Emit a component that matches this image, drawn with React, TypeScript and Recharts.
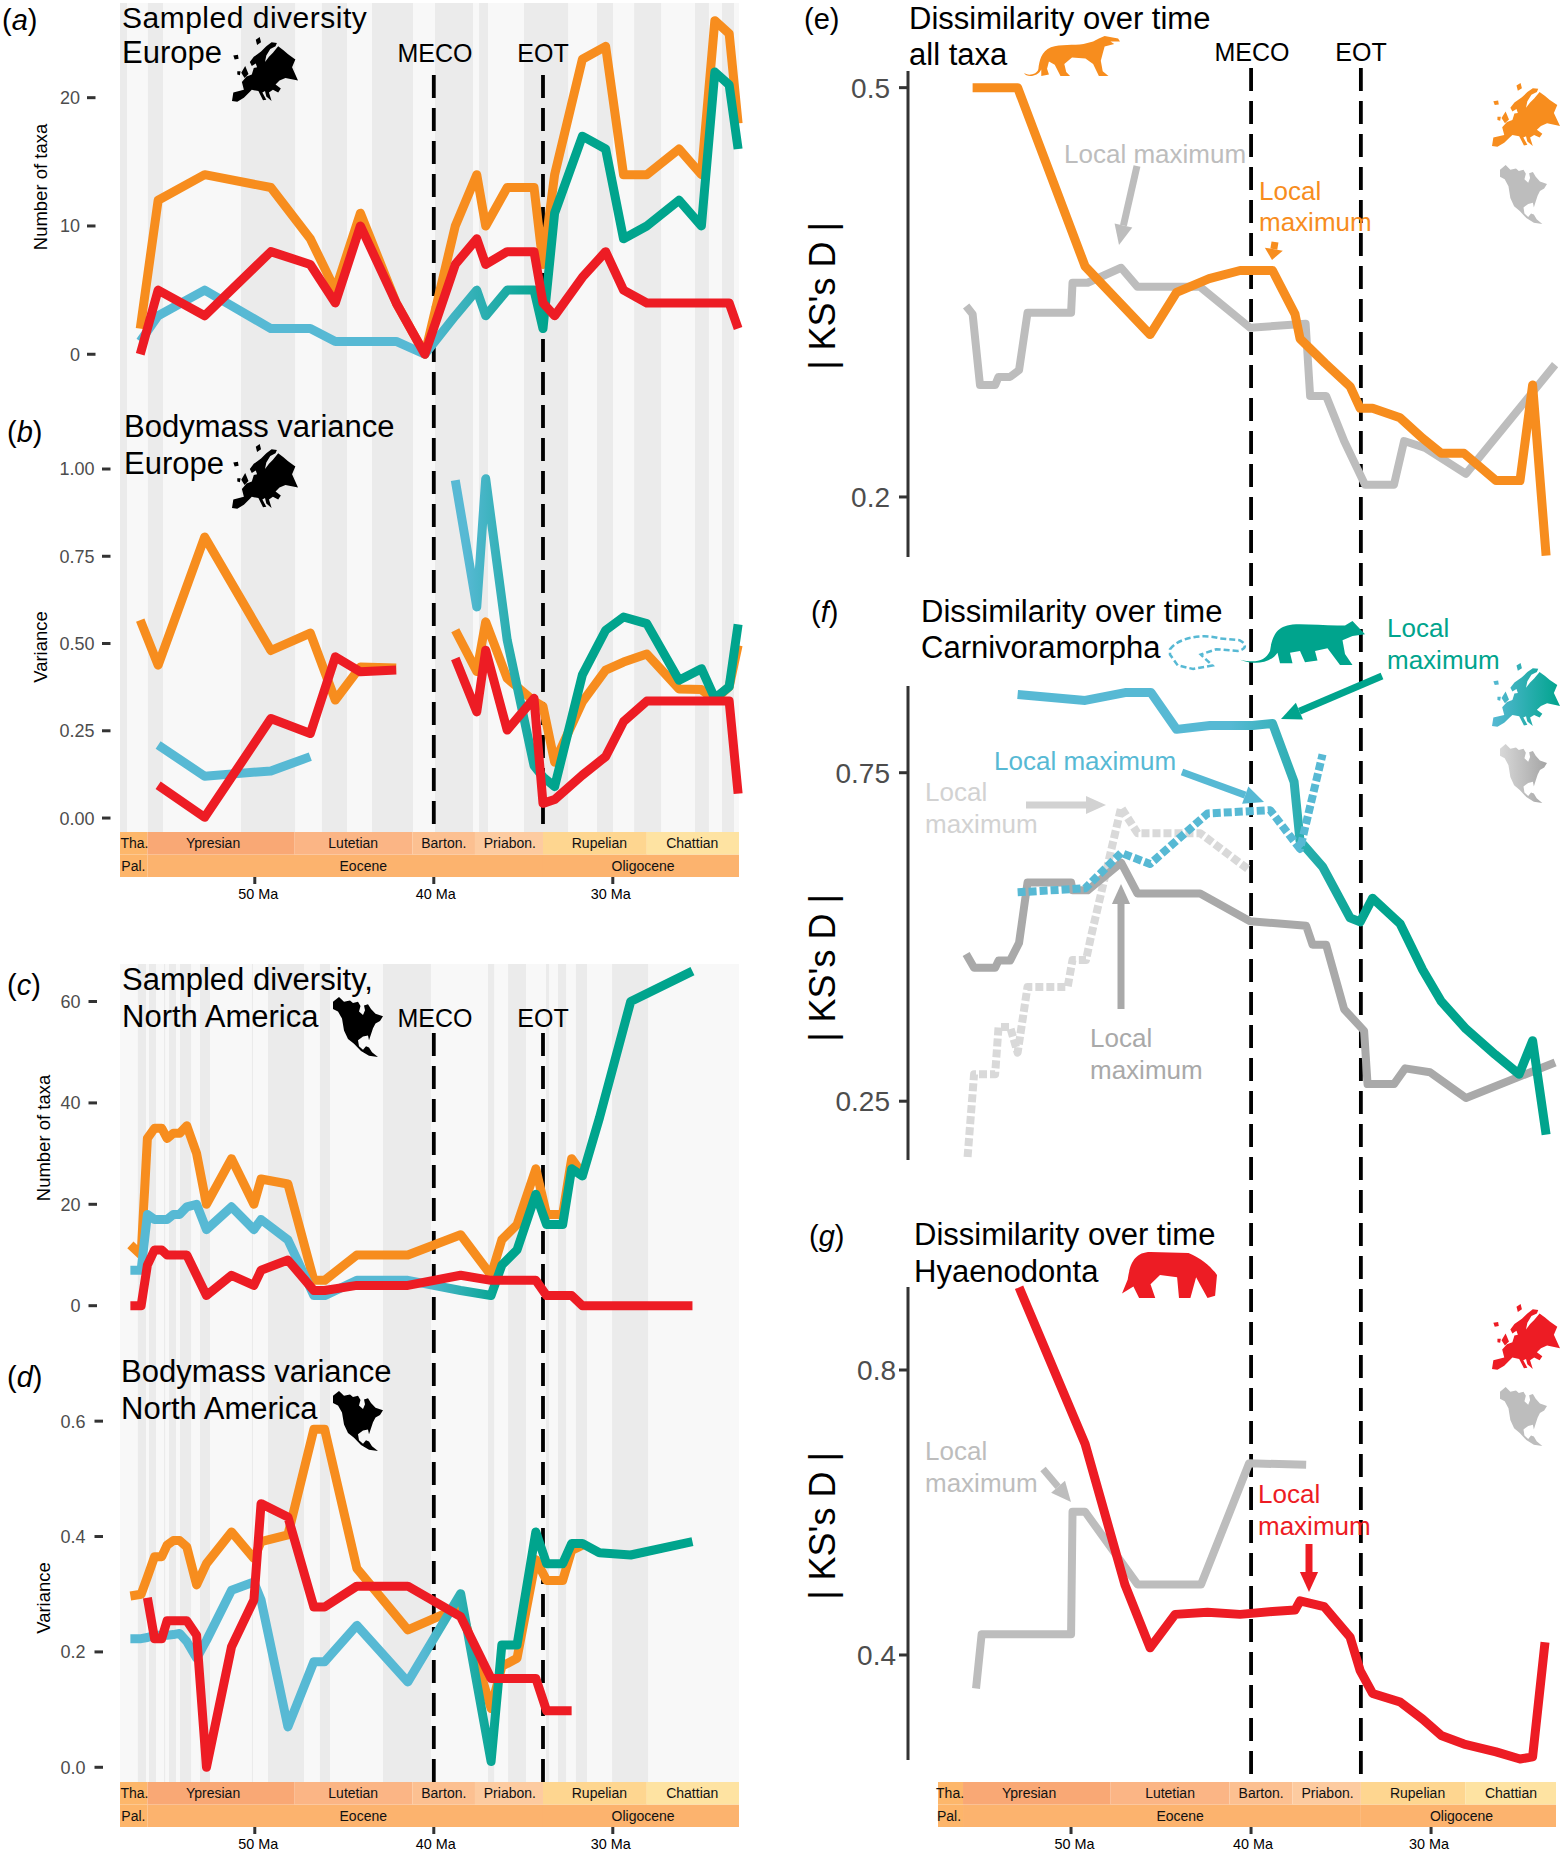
import React from 'react';
import { LineChart, Line, XAxis, YAxis, ReferenceArea, ReferenceLine, ReferenceDot } from 'recharts';

const FONT = '"Liberation Sans", Arial, sans-serif';
const ORANGE = '#F78D1E', RED = '#ED1C24', BLUE = '#57B9D4', TEAL = '#00A48D';
const MECO_AGE = 40, EOT_AGE = 33.9;

// ---------- Time bins (Ma) ----------
const ageEurope = [56.4, 55.4, 52.8, 49.1, 46.9, 45.5, 44.1, 42.1, 40.5, 38.8, 37.6, 37.1, 35.9, 34.4, 33.9, 33.25, 31.7, 30.4, 29.4, 28.1, 26.3, 25.05, 24.3, 23.5, 23.0];
const ageNorthAm = [56.95, 56.35, 56.0, 55.6, 55.2, 54.9, 54.55, 54.2, 53.8, 53.25, 52.7, 51.3, 50.05, 49.65, 48.15, 46.7, 46.1, 44.3, 41.45, 38.5, 36.8, 36.2, 35.35, 34.3, 33.7, 32.8, 32.3, 31.7, 30.75, 29, 25.55];

// (a) diversity Europe
const aOrange = [2, 12, 14, 13, 9, 5, 11, 4, 0, 10, 14, 10, 13, 13, 7, 14, 23, 24, 14, 14, 16, 14, 26, 25, 18];
const aCarni = [1, 3, 5, 2, 2, 1, 1, 1, 0, 3, 5, 3, 5, 5, 2, 11, 17, 16, 9, 10, 12, 10, 22, 21, 16];
const aRed = [0, 5, 3, 8, 7, 4, 10, 4, 0, 7, 9, 7, 8, 8, 4, 3, 6, 8, 5, 4, 4, 4, 4, 4, 2];
// (b) variance Europe
const bOrange = [.567, .438, .805, .48, .53, .338, .433, .43, null, .538, .42, .562, .40, .335, .32, .16, .333, .424, .447, .47, .37, .368, .338, .376, .495];
const bCarni = [null, .209, .12, .135, .176, null, null, null, null, .968, .605, .972, .51, .15, .118, .09, .41, .538, .576, .557, .395, .428, .343, .376, .555];
const bRed = [null, .094, .002, .285, .242, .462, .419, .424, null, .457, .304, .481, .252, .343, .042, .053, .123, .176, .276, .335, .335, .335, .335, .335, .07];
// (c) diversity North America
const cOrange = [12, 10, 33, 35, 35, 33, 34, 34, 35.5, 30, 20, 29, 20, 25, 24, 5, 5, 10, 10, 14, 6, 13, 16, 27, 18, 18, 29, 26, null, null, null];
const cCarni = [7, 7, 18, 17, 17, 17, 18, 18, 19.5, 20, 15, 19.5, 15, 17, 13, 2, 2, 5, 5, 3, 2, 8, 11, 22, 16, 16, 27, 25.6, 37, 60, 66];
const cRed = [0, 0, 8, 11, 11, 10, 10, 10, 10, 6, 2, 6, 4, 7, 9, 3, 3, 4, 4, 6, 5, 5, 5, 5, 2, 2, 2, 0, 0, 0, 0];
// (d) variance North America
const dOrange = [.297, .3, .33, .365, .365, .385, .393, .393, .382, .316, .353, .408, .362, .391, .403, .586, .586, .345, .238, .278, .102, .175, .189, .36, .324, .324, .376, .385, null, null, null];
const dCarni = [.223, .223, .225, .229, .229, .229, .23, .232, .218, .189, .22, .307, .321, .29, .07, .183, .183, .246, .148, .301, .01, .212, .212, .408, .353, .353, .388, .388, .372, .368, .391];
const dRed = [null, null, .294, .223, .223, .254, .254, .254, .254, .229, 0, .209, .29, .457, .434, .278, .278, .314, .314, .261, .154, .154, .154, .154, .098, .098, .098, null, null, null, null];
// (e) all taxa
const eOrangeAge = [55.47, 52.97, 49.22, 45.61, 44.14, 42.33, 40.61, 38.81, 37.56, 37.28, 35.89, 34.5, 33.94, 33.25, 31.72, 30.47, 29.44, 28.17, 26.39, 25.06, 24.36, 23.61];
const eOrange = [.5, .5, .369, .319, .35, .36, .366, .366, .334, .316, .298, .281, .265, .265, .258, .243, .232, .232, .212, .212, .282, .157];
const eGreyAge = [55.83, 55.47, 55.06, 54.22, 54.03, 53.39, 52.89, 52.42, 50, 49.92, 49.08, 47.22, 46.31, 42.83, 40.06, 36.97, 36.72, 35.83, 34.83, 33.67, 32.06, 31.5, 30.33, 28.06, 23.11];
const eGrey = [.34, .334, .282, .282, .288, .288, .293, .335, .335, .357, .357, .368, .354, .354, .324, .327, .274, .274, .241, .209, .209, .241, .236, .217, .297];
// (f) Carnivoramorpha
const fCarniAge = [52.97, 49.22, 47, 45.56, 44.14, 42.28, 39.92, 38.81, 37.61, 37.28, 36.03, 34.5, 33.94, 33.25, 31.72, 30.47, 29.44, 28.06, 26.44, 25.11, 24.36, 23.61];
const fCarni = [.869, .86, .872, .872, .816, .822, .822, .825, .736, .646, .607, .529, .523, .559, .52, .45, .402, .36, .321, .291, .342, .199];
const fGreyAge = [55.83, 55.39, 54.22, 54.03, 53.39, 52.89, 52.42, 50, 49.92, 49.08, 47.22, 46.31, 42.83, 40.06, 36.94, 36.58, 35.83, 34.83, 33.72, 33.53, 32.06, 31.44, 30.06, 28.06, 23.11];
const fGrey = [.474, .453, .453, .464, .464, .491, .583, .583, .571, .571, .613, .566, .566, .524, .517, .488, .488, .39, .357, .276, .276, .3, .294, .255, .309];
const fDotGreyAge = [55.75, 55.39, 54.22, 54.03, 53.39, 52.97, 52.42, 50.19, 49.92, 49.17, 48.89, 47.22, 46.31, 42.83, 40.06];
const fDotGrey = [.165, .291, .291, .363, .363, .324, .424, .424, .465, .465, .501, .697, .658, .658, .601];
const fDotBlueAge = [52.97, 49.22, 47.22, 45.61, 42.42, 38.94, 37.28, 36.03];
const fDotBlue = [.568, .574, .628, .611, .688, .693, .634, .778];
// (g) Hyaenodonta
const gRedAge = [52.89, 49.22, 47, 45.61, 44.22, 42.42, 40.61, 38.81, 37.56, 37.28, 35.94, 34.5, 33.94, 33.25, 31.72, 30.47, 29.44, 28.17, 26.39, 25.06, 24.36, 23.67];
const gRed = [.916, .696, .498, .41, .457, .46, .457, .461, .463, .476, .468, .425, .378, .346, .334, .31, .287, .275, .264, .254, .257, .418];
const gGreyAge = [55.28, 54.97, 50, 49.92, 49.22, 46.31, 42.78, 40.11, 36.94];
const gGrey = [.353, .429, .429, .601, .601, .499, .499, .669, .667];

// ---------- Background stripes (Ma) ----------
const stripesEurope = [[57.53, 57.14], [55.97, 55.13], [50.77, 47.75], [46.25, 44.85], [43.45, 41.16], [39.93, 37.81], [37.47, 36.97], [34.96, 32.5], [30.88, 29.99], [28.81, 27.3], [25.41, 24.63], [23.9, 23.23]];
const stripesNorthAm = [[56.53, 56.08], [55.91, 55.52], [55.07, 55.01], [54.79, 54.4], [54.18, 53.56], [53.06, 52.5], [50.16, 50.1], [49.26, 47.25], [46.36, 45.8], [42.84, 40.16], [36.97, 36.63], [35.85, 34.85], [33.73, 33.56], [33.06, 32.61], [32.06, 31.44], [30.04, 28.03]];

// ---------- Geological timescale ----------
const stageNames = ['Tha.', 'Ypresian', 'Lutetian', 'Barton.', 'Priabon.', 'Rupelian', 'Chattian'];
const stageEnds = [56, 47.8, 41.2, 37.7, 33.9, 28.1, 23];
const stageFills = ['#FDB76B', '#F9A875', '#FBB585', '#FCC091', '#FDCBA0', '#FED690', '#FEE3A2'];
const stageLabelAge = [56.72, 52.33, 44.5, 39.44, 35.75, 30.75, 25.56];
const epochNames = ['Pal.', 'Eocene', 'Oligocene'];
const epochEnds = [56, 33.9, 23];
const epochFills = ['#FDB56A', '#FCB36E', '#FCB36E'];
const epochLabelAge = [56.78, 43.94, 28.31];
const timeTicks = [50, 40, 30];
const timeTickLabelShift: Record<number, number> = { 50: 3.5, 40: 2, 30: -2 };

const pts = (ages: number[], vals: (number | null)[]) => ages.map((x, i) => ({ x, y: vals[i] }));

const colL = { left: 120, right: 739, old: 57.53, young: 22.95 };
const colR = { left: 908, right: 1556, old: 59.06, young: 23.06 };

function Panel({ col, chartLeft, top, bottom, domain, ticks, fmt, tickGeo, fontSize, axis, series }: any) {
  const M = 8;
  const plotH = bottom - top;
  const tick = (p: any) => (
    <g>
      <line x1={tickGeo[0] - chartLeft} x2={tickGeo[1] - chartLeft} y1={p.y} y2={p.y} stroke="#333" strokeWidth={3} />
      <text x={tickGeo[2] - chartLeft} y={p.y} dy="0.36em" textAnchor="end" fontSize={fontSize} fontFamily={FONT} fill="#4D4D4D">{fmt(p.payload.value)}</text>
    </g>
  );
  return (
    <div style={{ position: 'absolute', left: chartLeft, top: top - M }}>
      <LineChart width={col.right - chartLeft + M} height={plotH + 2 * M} margin={{ top: M, right: M, bottom: M, left: 0 }}>
        <XAxis type="number" dataKey="x" domain={[col.young, col.old]} reversed hide />
        <YAxis type="number" dataKey="y" width={col.left - chartLeft} domain={domain} ticks={ticks} interval={0} tick={tick} tickLine={false}
          axisLine={axis ? { stroke: '#333', strokeWidth: 3 } : false} />
        {series.map((s: any, i: number) => (
          <Line key={i} data={s.data} dataKey="y" type="linear" stroke={s.stroke} strokeWidth={s.w || 9} strokeDasharray={s.dash}
            strokeLinejoin="round" strokeLinecap="butt" dot={false} activeDot={false} isAnimationActive={false} connectNulls={false} />
        ))}
      </LineChart>
    </div>
  );
}

function Guides({ col, top, bottom, dashTop, stripes }: any) {
  const seg = (x: number) => [{ x, y: dashTop }, { x, y: bottom }];
  return (
    <div style={{ position: 'absolute', left: col.left, top }}>
      <LineChart width={col.right - col.left} height={bottom - top} margin={{ top: 0, right: 0, bottom: 0, left: 0 }}
        data={[{ x: col.old, y: top }, { x: col.young, y: bottom }]}>
        <XAxis type="number" dataKey="x" domain={[col.young, col.old]} reversed hide />
        <YAxis type="number" dataKey="y" domain={[top, bottom]} reversed hide />
        {stripes && <ReferenceArea x1={col.old} x2={col.young} fill="#F8F8F8" fillOpacity={1} stroke="none" />}
        {stripes && stripes.map((s: number[], i: number) => (
          <ReferenceArea key={i} x1={s[0]} x2={s[1]} fill="#EBEBEB" fillOpacity={1} stroke="none" />
        ))}
        <ReferenceLine segment={seg(MECO_AGE)} stroke="#000" strokeWidth={3.8} strokeDasharray="23 10" />
        <ReferenceLine segment={seg(EOT_AGE)} stroke="#000" strokeWidth={3.8} strokeDasharray="23 10" />
      </LineChart>
    </div>
  );
}

function Timescale({ left, right, old, young, top }: any) {
  const rows = [0, 1];
  const pad = 16;
  const tick = (p: any) => (
    <g>
      <line x1={p.x} x2={p.x} y1={45} y2={52} stroke="#333" strokeWidth={3} />
      <text x={p.x + timeTickLabelShift[p.payload.value]} y={67} textAnchor="middle" fontSize={14.4} fontFamily={FONT} fill="#000">{p.payload.value} Ma</text>
    </g>
  );
  return (
    <div style={{ position: 'absolute', left: left - pad, top }}>
      <LineChart width={right - left + 2 * pad} height={71} margin={{ top: 0, right: pad, bottom: 0, left: pad }}
        data={[{ x: old, y: 0 }, { x: young, y: 2 }]}>
        <XAxis type="number" dataKey="x" domain={[young, old]} reversed ticks={timeTicks} interval={0} height={26} tickLine={false}
          axisLine={false} tick={tick} />
        <YAxis type="number" dataKey="y" domain={[0, 2]} hide />
        {rows.map((r) => {
          const ends = r === 1 ? stageEnds : epochEnds;
          const fills = r === 1 ? stageFills : epochFills;
          return ends.map((e, i) => (
            <ReferenceArea key={`${r}-${i}`} x1={i === 0 ? old : ends[i - 1]} x2={i === ends.length - 1 ? young : e} y1={r} y2={r + 1}
              fill={fills[i]} fillOpacity={1} stroke="none" />
          ));
        })}
        {stageNames.map((n, i) => (
          <ReferenceDot key={n} x={stageLabelAge[i]} y={1.5} r={0} fill="none" stroke="none"
            label={{ value: n, position: 'center', fontSize: 14, fontFamily: FONT, fill: '#111' }} />
        ))}
        {epochNames.map((n, i) => (
          <ReferenceDot key={n} x={epochLabelAge[i]} y={0.5} r={0} fill="none" stroke="none"
            label={{ value: n, position: 'center', fontSize: 14, fontFamily: FONT, fill: '#111' }} />
        ))}
      </LineChart>
    </div>
  );
}

// ---------- Decorative silhouettes ----------
const EUROPE = 'M0,97 L2,84 L18,80 L15,68 L22,60 L30,57 L33,47 L38,46 L36,40 L30,44 L27,38 L33,30 L44,22 L52,14 L60,8 L68,9 L66,14 L58,18 L52,28 L50,38 L56,30 L62,24 L70,14 L78,20 L85,26 L96,34 L91,46 L100,66 L81,62 L72,66 L66,72 L74,78 L70,84 L62,80 L56,84 L60,97 L52,90 L50,82 L46,84 L52,95 L47,96 L40,82 L30,80 L26,84 L18,92 L8,98 Z M14,54 L20,44 L25,56 L19,62 Z M8,52 L13,52 L12,58 L8,57 Z M2,28 L9,27 L10,33 L4,34 Z M36,4 L42,0 L44,8 L38,12 Z';
const NAMERICA = 'M0,8 L12,0 L22,8 L34,6 L40,10 L50,8 L55,15 L52,24 L60,30 L64,22 L62,14 L70,12 L76,20 L85,28 L100,32 L94,40 L85,44 L80,52 L76,62 L72,72 L70,64 L60,66 L50,72 L52,82 L60,88 L66,82 L72,84 L78,92 L90,100 L72,98 L56,90 L42,78 L30,70 L22,56 L18,36 L10,24 L0,20 Z';
const CAT = 'M0,92 C3,100 14,98 15,82 C16,62 18,38 28,28 C38,20 52,24 62,20 L72,14 L78,6 L84,0 L98,6 L100,14 L90,14 L94,20 L84,26 L82,44 L80,62 L82,88 L88,100 L78,100 L72,70 L64,56 L50,54 L42,70 L44,90 L48,100 L38,100 L32,72 L26,64 L24,82 L26,96 L18,100 L18,84 C14,104 2,104 0,92 Z';
const CARNI = 'M0,88 C12,96 20,92 24,68 C26,30 30,12 42,8 C55,6 70,12 84,10 L90,0 L100,30 L90,34 L82,44 L84,75 L90,100 L80,100 L70,62 L60,68 L62,90 L52,94 L48,68 L40,72 L42,96 L32,96 L30,72 C24,98 10,100 0,88 Z';
const HYAENO = 'M0,90 L6,60 C8,30 12,0 30,0 L70,2 C85,15 95,35 100,50 L98,95 L90,100 L82,70 L78,55 L72,100 L60,100 L58,55 L40,50 L30,70 L35,100 L18,100 L12,75 L0,90 Z';
const SKELETON = 'M0,45 C10,15 40,0 65,15 L90,20 C100,30 100,45 88,50 L60,45 L40,60 L55,90 L30,100 L10,90 L0,60 Z';

function Shape({ d, x, y, w, h, fill, stroke, dash }: any) {
  return (
    <g transform={`translate(${x} ${y}) scale(${w / 100} ${h / 100})`}>
      <path d={d} fill={fill || 'none'} stroke={stroke} strokeDasharray={dash} vectorEffect="non-scaling-stroke" strokeWidth={stroke ? 2.5 : 0} />
    </g>
  );
}

function Arrow({ x1, y1, x2, y2, color, w = 7, head = 20 }: any) {
  const dx = x2 - x1, dy = y2 - y1, L = Math.hypot(dx, dy), ux = dx / L, uy = dy / L;
  const bx = x2 - ux * Math.min(head, L * 0.7), by = y2 - uy * Math.min(head, L * 0.7);
  const hw = w * 1.3;
  return (
    <g>
      <line x1={x1} y1={y1} x2={bx} y2={by} stroke={color} strokeWidth={w} />
      <polygon points={`${x2},${y2} ${bx - uy * hw},${by + ux * hw} ${bx + uy * hw},${by - ux * hw}`} fill={color} />
    </g>
  );
}

const T = ({ x, y, size = 31, fill = '#000', anchor, spacing, children }: any) => (
  <text x={x} y={y} fontSize={size} fill={fill} fontFamily={FONT} textAnchor={anchor} letterSpacing={spacing}>{children}</text>
);
const Letter = ({ x, y, l, plain }: any) => (
  <text x={x} y={y} fontSize={29} fontFamily={FONT} fill="#000">(<tspan fontStyle={plain ? 'normal' : 'italic'}>{l}</tspan>)</text>
);
const YLab = ({ x, y, size, children }: any) => (
  <text x={x} y={y} fontSize={size} fontFamily={FONT} fill="#000" textAnchor="middle" transform={`rotate(-90 ${x} ${y})`}>{children}</text>
);

function Overlay() {
  const GREY_E = '#BDBDBD', GREY_F = '#A9A9A9', GREY_D = '#D2D2D2';
  return (
    <svg width={1565} height={1853} style={{ position: 'absolute', left: 0, top: 0, pointerEvents: 'none' }}>
      <defs>
        <linearGradient id="mapGrad"><stop offset="0" stopColor={BLUE} /><stop offset="1" stopColor={TEAL} /></linearGradient>
        <linearGradient id="mapGrey"><stop offset="0" stopColor="#D8D8D8" /><stop offset="1" stopColor="#A5A5A5" /></linearGradient>
      </defs>
      {/* left column */}
      <Letter x={2} y={30} l="a" />
      <T x={122} y={27.5} size={30} spacing={0.5}>Sampled diversity</T>
      <T x={122} y={63}>Europe</T>
      <T x={435} y={62} size={25} anchor="middle">MECO</T>
      <T x={543} y={62} size={25} anchor="middle">EOT</T>
      <Shape d={EUROPE} x={232} y={37} w={66} h={66} fill="#000" />
      <YLab x={47} y={187} size={18.5}>Number of taxa</YLab>

      <Letter x={7} y={442} l="b" />
      <T x={124} y={437}>Bodymass variance</T>
      <T x={124} y={474}>Europe</T>
      <Shape d={EUROPE} x={232} y={444} w={66} h={66} fill="#000" />
      <YLab x={47} y={647} size={18.5}>Variance</YLab>

      <Letter x={7} y={995} l="c" />
      <T x={122} y={990}>Sampled diversity,</T>
      <T x={122} y={1027}>North America</T>
      <T x={435} y={1027} size={25} anchor="middle">MECO</T>
      <T x={543} y={1027} size={25} anchor="middle">EOT</T>
      <Shape d={NAMERICA} x={333} y={997} w={50} h={60} fill="#000" />
      <YLab x={50} y={1138} size={18.5}>Number of taxa</YLab>

      <Letter x={7} y={1387} l="d" />
      <T x={121} y={1382}>Bodymass variance</T>
      <T x={121} y={1419}>North America</T>
      <Shape d={NAMERICA} x={333} y={1391} w={50} h={60} fill="#000" />
      <YLab x={50} y={1598} size={18.5}>Variance</YLab>

      {/* panel e */}
      <Letter x={804} y={29} l="e" plain />
      <T x={909} y={28.5}>Dissimilarity over time</T>
      <T x={909} y={65}>all taxa</T>
      <Shape d={CAT} x={1024} y={36} w={96} h={40} fill={ORANGE} />
      <T x={1252} y={61} size={25} anchor="middle">MECO</T>
      <T x={1361} y={61} size={25} anchor="middle">EOT</T>
      <YLab x={835} y={296} size={36}>| KS's D |</YLab>
      <T x={1064} y={163} size={26} fill={GREY_E}>Local maximum</T>
      <Arrow x1={1137} y1={166} x2={1119} y2={245} color={GREY_E} />
      <T x={1259} y={200} size={26} fill={ORANGE}>Local</T>
      <T x={1259} y={231} size={26} fill={ORANGE}>maximum</T>
      <Arrow x1={1275} y1={242} x2={1272} y2={260} color={ORANGE} head={11} />
      <Shape d={EUROPE} x={1492} y={83} w={68} h={65} fill={ORANGE} />
      <Shape d={NAMERICA} x={1500} y={165} w={47} h={59} fill="#BDBDBD" />

      {/* panel f */}
      <Letter x={811} y={622} l="f" />
      <T x={921} y={622}>Dissimilarity over time</T>
      <T x={921} y={658}>Carnivoramorpha</T>
      <Shape d={SKELETON} x={1170} y={633} w={77} h={36} stroke={BLUE} dash="6 3" />
      <Shape d={CARNI} x={1240} y={621} w={125} h={44} fill={TEAL} />
      <YLab x={835} y={968} size={36}>| KS's D |</YLab>
      <T x={1387} y={637} size={26} fill={TEAL}>Local</T>
      <T x={1387} y={669} size={26} fill={TEAL}>maximum</T>
      <Arrow x1={1382} y1={676} x2={1281} y2={719} color={TEAL} />
      <T x={994} y={770} size={26} fill={BLUE}>Local maximum</T>
      <Arrow x1={1182} y1={772} x2={1264} y2={802} color={BLUE} />
      <T x={925} y={801} size={26} fill={GREY_D}>Local</T>
      <T x={925} y={833} size={26} fill={GREY_D}>maximum</T>
      <Arrow x1={1026} y1={805} x2={1106} y2={805} color={GREY_D} />
      <T x={1090} y={1047} size={26} fill={GREY_F}>Local</T>
      <T x={1090} y={1079} size={26} fill={GREY_F}>maximum</T>
      <Arrow x1={1121} y1={1009} x2={1121} y2={884} color={GREY_F} />
      <Shape d={EUROPE} x={1492} y={663} w={68} h={65} fill="url(#mapGrad)" />
      <Shape d={NAMERICA} x={1500} y={744} w={47} h={59} fill="url(#mapGrey)" />

      {/* panel g */}
      <Letter x={809} y={1246} l="g" />
      <T x={914} y={1245}>Dissimilarity over time</T>
      <T x={914} y={1282}>Hyaenodonta</T>
      <Shape d={HYAENO} x={1122} y={1252} w={95} h={46} fill={RED} />
      <YLab x={835} y={1526} size={36}>| KS's D |</YLab>
      <T x={925} y={1460} size={26} fill={GREY_E}>Local</T>
      <T x={925} y={1492} size={26} fill={GREY_E}>maximum</T>
      <Arrow x1={1043} y1={1469} x2={1071} y2={1502} color={GREY_E} />
      <T x={1258} y={1503} size={26} fill={RED}>Local</T>
      <T x={1258} y={1535} size={26} fill={RED}>maximum</T>
      <Arrow x1={1309} y1={1544} x2={1309} y2={1592} color={RED} />
      <Shape d={EUROPE} x={1492} y={1304} w={68} h={67} fill={RED} />
      <Shape d={NAMERICA} x={1500} y={1387} w={47} h={59} fill="#BDBDBD" />
    </svg>
  );
}

const gradients: [string, number, number][] = [['gA', .47, .68], ['gB', .53, .68], ['gC', .52, .66], ['gD', .52, .66], ['gF', .40, .67]];

export default function App() {
  const tt = (v: number) => String(v);
  const f2 = (v: number) => v.toFixed(2);
  const f1 = (v: number) => v.toFixed(1);
  return (
    <div style={{ position: 'relative', width: 1565, height: 1853, overflow: 'hidden', background: '#fff' }}>
      <style>{'html,body{margin:0;padding:0;background:#fff}'}</style>
      <svg width={0} height={0} style={{ position: 'absolute' }}>
        <defs>
          {gradients.map(([id, a, b]) => (
            <linearGradient key={id} id={id}>
              <stop offset={a} stopColor={BLUE} />
              <stop offset={b} stopColor={TEAL} />
            </linearGradient>
          ))}
        </defs>
      </svg>
      <Guides col={colL} top={3} bottom={832} dashTop={75} stripes={stripesEurope} />
      <Guides col={colL} top={964} bottom={1782} dashTop={1033} stripes={stripesNorthAm} />
      <Guides col={colR} top={68} bottom={1782} dashTop={68} />

      <Panel col={colL} chartLeft={40} top={3} bottom={417} domain={[-4.89, 27.38]} ticks={[0, 10, 20]} fmt={tt} fontSize={18}
        tickGeo={[87, 95.5, 80]} series={[
          { data: pts(ageEurope, aOrange), stroke: ORANGE },
          { data: pts(ageEurope, aCarni), stroke: 'url(#gA)' },
          { data: pts(ageEurope, aRed), stroke: RED },
        ]} />
      <Panel col={colL} chartLeft={40} top={417} bottom={832} domain={[-0.04, 1.149]} ticks={[0, .25, .5, .75, 1]} fmt={f2} fontSize={18}
        tickGeo={[102, 110.5, 94.5]} series={[
          { data: pts(ageEurope, bOrange), stroke: ORANGE },
          { data: pts(ageEurope, bCarni), stroke: 'url(#gB)' },
          { data: pts(ageEurope, bRed), stroke: RED },
        ]} />
      <Panel col={colL} chartLeft={40} top={964} bottom={1375} domain={[-13.67, 67.4]} ticks={[0, 20, 40, 60]} fmt={tt} fontSize={18}
        tickGeo={[88.5, 97, 80.5]} series={[
          { data: pts(ageNorthAm, cOrange), stroke: ORANGE },
          { data: pts(ageNorthAm, cCarni), stroke: 'url(#gC)' },
          { data: pts(ageNorthAm, cRed), stroke: RED },
        ]} />
      <Panel col={colL} chartLeft={40} top={1375} bottom={1782} domain={[-0.0255, 0.68]} ticks={[0, .2, .4, .6]} fmt={f1} fontSize={18}
        tickGeo={[94.5, 103, 85.5]} series={[
          { data: pts(ageNorthAm, dOrange), stroke: ORANGE },
          { data: pts(ageNorthAm, dCarni), stroke: 'url(#gD)' },
          { data: pts(ageNorthAm, dRed), stroke: RED },
        ]} />

      <Panel col={colR} chartLeft={800} top={71} bottom={557} domain={[0.156, 0.5122]} ticks={[.2, .5]} fmt={f1} fontSize={28} axis
        tickGeo={[899, 907, 890]} series={[
          { data: pts(eGreyAge, eGrey), stroke: '#BDBDBD', w: 8 },
          { data: pts(eOrangeAge, eOrange), stroke: ORANGE },
        ]} />
      <Panel col={colR} chartLeft={800} top={686} bottom={1160} domain={[0.1605, 0.882]} ticks={[.25, .75]} fmt={f2} fontSize={28} axis
        tickGeo={[899, 907, 890]} series={[
          { data: pts(fDotGreyAge, fDotGrey), stroke: '#D9D9D9', dash: '8 3', w: 8 },
          { data: pts(fGreyAge, fGrey), stroke: '#A9A9A9', w: 8 },
          { data: pts(fCarniAge, fCarni), stroke: 'url(#gF)' },
          { data: pts(fDotBlueAge, fDotBlue), stroke: BLUE, dash: '8 3', w: 8 },
        ]} />
      <Panel col={colR} chartLeft={800} top={1287} bottom={1760} domain={[0.2526, 0.9165]} ticks={[.4, .8]} fmt={f1} fontSize={28} axis
        tickGeo={[899, 907, 896]} series={[
          { data: pts(gGreyAge, gGrey), stroke: '#BDBDBD', w: 8 },
          { data: pts(gRedAge, gRed), stroke: RED },
        ]} />

      <Timescale left={120} right={739} old={57.53} young={22.95} top={832} />
      <Timescale left={120} right={739} old={57.53} young={22.95} top={1782} />
      <Timescale left={938} right={1556} old={57.39} young={23.06} top={1782} />
      <Overlay />
    </div>
  );
}
